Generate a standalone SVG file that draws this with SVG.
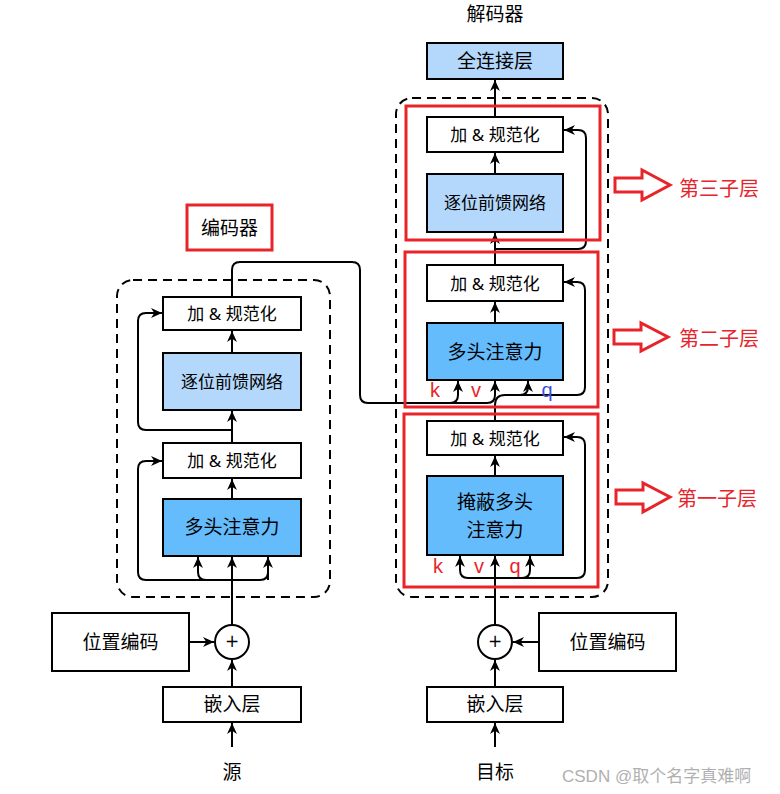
<svg xmlns="http://www.w3.org/2000/svg" width="780" height="794" viewBox="0 0 780 794">
<style>
.box{stroke:#000;stroke-width:2;fill:#fff}
.lb{fill:#b3d8fc}
.mb{fill:#64bcfd}
.t{font-family:"Noto Sans","Noto Sans CJK SC",sans-serif;font-size:19px;text-anchor:middle;dominant-baseline:central;fill:#000}
.s{font-size:17px}
.ln{fill:none;stroke:#000;stroke-width:2}
.arr{marker-end:url(#ah)}
.red{fill:none;stroke:#e8242b;stroke-width:3}
.dash{fill:none;stroke:#000;stroke-width:2;stroke-dasharray:9 6}
.rt{font-family:"Noto Sans CJK SC","Noto Sans",sans-serif;font-size:20px;dominant-baseline:central;fill:#e8242b}
.kv{font-family:"Liberation Sans","Noto Sans",sans-serif;font-size:20px;text-anchor:middle}
.bh{fill:#fff;stroke:#e8242b;stroke-width:3}
.plus{font-family:"DejaVu Sans",sans-serif;font-size:17px;text-anchor:middle;dominant-baseline:central;fill:#000}
</style>
<defs>
<marker id="ah" viewBox="0 0 10 10" refX="10" refY="5" markerWidth="11" markerHeight="11" markerUnits="userSpaceOnUse" orient="auto">
<path d="M0,0.5 L10,5 L0,9.5 L3,5z" fill="#000"/>
</marker>
</defs>
<rect x="0" y="0" width="780" height="794" fill="#fff"/>

<!-- containers -->
<g id="enc-block"><rect class="dash" x="117" y="280" width="213" height="317" rx="16"/></g>
<g id="dec-block"><rect class="dash" x="396" y="98" width="212" height="499" rx="16"/></g>

<!-- connectors -->
<g id="connectors">
<!-- encoder -->
<path class="ln arr" d="M232,747 V723"/>
<path class="ln arr" d="M232,687 V660"/>
<path class="ln arr" d="M189,642 H214"/>
<path class="ln arr" d="M232,625 V557"/>
<path class="ln arr" d="M268,580 V557"/>
<path class="ln arr" d="M198,572 V557"/>
<path class="ln" d="M268,572 Q268,580 260,580 H146 Q138,580 138,572 V469 Q138,461 146,461 H162" marker-end="url(#ah)"/>
<path class="ln" d="M198,572 Q198,580 206,580"/>
<path class="ln arr" d="M232,499 V479"/>
<path class="ln arr" d="M232,443 V411"/>
<path class="ln" d="M232,430 H146 Q138,430 138,422 V321 Q138,313 146,313 H162" marker-end="url(#ah)"/>
<path class="ln arr" d="M232,353 V331"/>
<path class="ln" d="M232,297 V270 Q232,262 240,262 H352 Q360,262 360,270 V395 Q360,403 368,403 H487 Q495,403 495,395 V381" marker-end="url(#ah)"/>
<path class="ln arr" d="M450,403 Q458,403 458,395 V381"/>
<!-- decoder -->
<path class="ln arr" d="M495,747 V723"/>
<path class="ln arr" d="M495,687 V660"/>
<path class="ln arr" d="M539,642 H513"/>
<path class="ln arr" d="M495,625 V556"/>
<path class="ln" d="M460,570 Q460,578 468,578 H577 Q585,578 585,570 V445 Q585,437 577,437 H564" marker-end="url(#ah)"/>
<path class="ln arr" d="M460,570 V556"/>
<path class="ln arr" d="M522,578 Q530,578 530,570 V556"/>
<path class="ln arr" d="M495,476 V456"/>
<path class="ln" d="M495,421 V405 Q495,395 505,395 H577 Q585,395 585,387 V290 Q585,282 577,282 H564" marker-end="url(#ah)"/>
<path class="ln arr" d="M520,395 Q528,395 528,387 V381"/>
<path class="ln arr" d="M495,323 V302"/>
<path class="ln arr" d="M495,265 V233"/>
<path class="ln" d="M495,249 H578 Q586,249 586,241 V138 Q586,130 578,130 H564" marker-end="url(#ah)"/>
<path class="ln arr" d="M495,174 V153"/>
<path class="ln arr" d="M495,117 V80"/>
</g>

<!-- encoder nodes -->
<g id="enc-label"><rect x="187" y="205" width="85" height="45" fill="#fff" stroke="#e8242b" stroke-width="3"/><text class="t" x="229.5" y="228">编码器</text></g>
<g id="enc-addnorm2"><rect class="box" x="163" y="297" width="138" height="33"/><text class="t s" x="232" y="313">加 &amp; 规范化</text></g>
<g id="enc-ffn"><rect class="box lb" x="163" y="353" width="138" height="57"/><text class="t s" x="232" y="381">逐位前馈网络</text></g>
<g id="enc-addnorm1"><rect class="box" x="163" y="443" width="138" height="35"/><text class="t s" x="232" y="460">加 &amp; 规范化</text></g>
<g id="enc-mha"><rect class="box mb" x="163" y="499" width="138" height="57"/><text class="t" x="232" y="527">多头注意力</text></g>
<g id="enc-pos"><rect class="box" x="52" y="613" width="137" height="58"/><text class="t" x="120.5" y="642">位置编码</text></g>
<g id="enc-add"><circle class="box" cx="232" cy="642" r="17"/><text class="plus" x="232" y="641">+</text></g>
<g id="enc-embed"><rect class="box" x="163" y="687" width="138" height="35"/><text class="t" x="232" y="704">嵌入层</text></g>
<g id="src"><text class="t" x="232" y="772">源</text></g>

<!-- decoder nodes -->
<g id="dec-title"><text class="t" x="495" y="14">解码器</text></g>
<g id="dec-fc"><rect class="box lb" x="427" y="43" width="136" height="36"/><text class="t" x="495" y="61">全连接层</text></g>
<g id="dec-addnorm3"><rect class="box" x="427" y="117" width="136" height="35"/><text class="t s" x="495" y="134">加 &amp; 规范化</text></g>
<g id="dec-ffn"><rect class="box lb" x="427" y="174" width="136" height="58"/><text class="t s" x="495" y="202">逐位前馈网络</text></g>
<g id="dec-addnorm2"><rect class="box" x="427" y="265" width="136" height="36"/><text class="t s" x="495" y="283">加 &amp; 规范化</text></g>
<g id="dec-mha"><rect class="box mb" x="427" y="323" width="136" height="57"/><text class="t" x="495" y="352">多头注意力</text></g>
<g id="dec-addnorm1"><rect class="box" x="427" y="421" width="136" height="34"/><text class="t s" x="495" y="438">加 &amp; 规范化</text></g>
<g id="dec-mmha"><rect class="box mb" x="427" y="476" width="136" height="79"/><text class="t" x="495" y="502">掩蔽多头</text><text class="t" x="495" y="530">注意力</text></g>
<g id="dec-pos"><rect class="box" x="539" y="613" width="137" height="58"/><text class="t" x="607.5" y="642">位置编码</text></g>
<g id="dec-add"><circle class="box" cx="495" cy="642" r="17"/><text class="plus" x="495" y="641">+</text></g>
<g id="dec-embed"><rect class="box" x="427" y="687" width="136" height="35"/><text class="t" x="495" y="704">嵌入层</text></g>
<g id="tgt"><text class="t" x="495" y="772">目标</text></g>

<!-- kvq labels -->
<g id="kvq2">
<text class="kv" x="435" y="397" fill="#e8242b">k</text>
<text class="kv" x="476" y="397" fill="#e8242b">v</text>
<text class="kv" x="547" y="397" fill="#3b4fd8">q</text>
</g>
<g id="kvq1">
<text class="kv" x="438" y="573" fill="#e8242b">k</text>
<text class="kv" x="479" y="573" fill="#e8242b">v</text>
<text class="kv" x="515" y="573" fill="#e8242b">q</text>
</g>

<!-- sublayer red frames -->
<g id="sub3"><rect class="red" x="406" y="106" width="194" height="134"/></g>
<g id="sub2"><rect class="red" x="405" y="252" width="193" height="155"/></g>
<g id="sub1"><rect class="red" x="404" y="414" width="194" height="173"/></g>

<!-- annotations -->
<g id="ann3"><polygon class="bh" points="615,178 642,178 642,170 670,185 642,200 642,192 615,192"/><text class="rt" x="679" y="187">第三子层</text></g>
<g id="ann2"><polygon class="bh" points="614,330 641,330 641,323 668,337 641,351 641,344 614,344"/><text class="rt" x="679" y="337">第二子层</text></g>
<g id="ann1"><polygon class="bh" points="616,490 643,490 643,483 670,497 643,512 643,504 616,504"/><text class="rt" x="677" y="497">第一子层</text></g>

<g id="watermark"><text x="562" y="776" style="font-family:'Liberation Sans','Noto Sans CJK SC',sans-serif;font-size:17px;fill:#b0b0b0;dominant-baseline:central">CSDN @取个名字真难啊</text></g>
</svg>
